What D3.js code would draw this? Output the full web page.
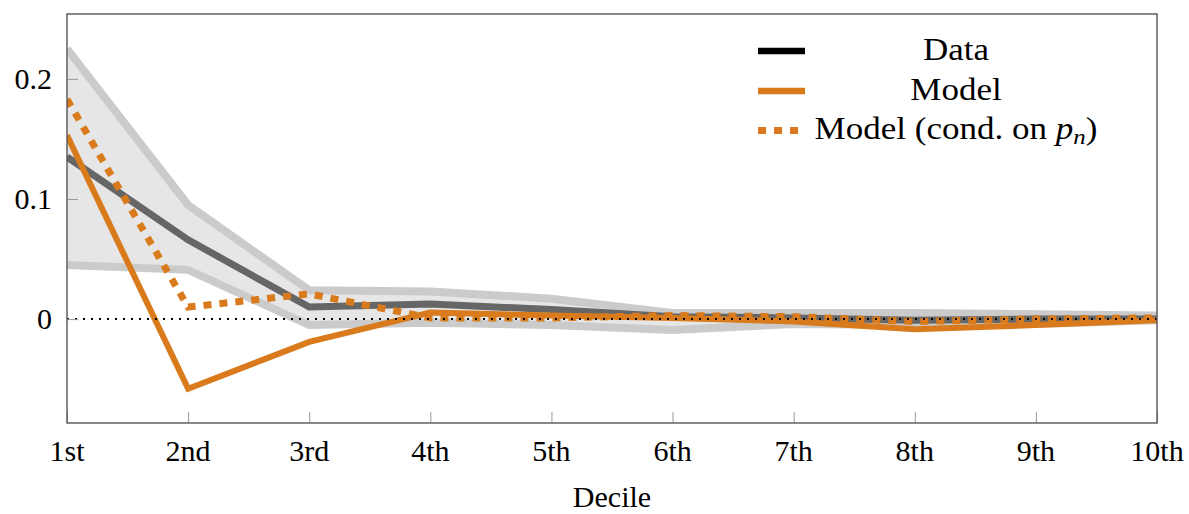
<!DOCTYPE html>
<html><head><meta charset="utf-8">
<script src="https://cdn.jsdelivr.net/npm/d3@7"></script>
<style>
body{margin:0;background:#fff;}
text{font-family:"Liberation Serif","Times New Roman",serif;fill:#000;}
</style></head>
<body><svg id="c" width="1189" height="514"></svg>
<script>
const deciles = ["1st","2nd","3rd","4th","5th","6th","7th","8th","9th","10th"];
const dataLine = [0.135, 0.066, 0.010, 0.0125, 0.008, 0.002, 0.001, -0.001, 0.000, 0.000];
const upperBand = [0.225, 0.095, 0.024, 0.023, 0.017, 0.005, 0.005, 0.005, 0.004, 0.003];
const lowerBand = [0.045, 0.041, -0.005, -0.003, -0.005, -0.009, -0.004, -0.005, -0.004, -0.001];
const modelLine = [0.153, -0.058, -0.019, 0.0055, 0.003, 0.001, -0.002, -0.0085, -0.005, -0.001];
const condLine = [0.183, 0.010, 0.021, 0.001, 0.001, 0.003, 0.002, -0.002, 0.000, 0.001];
const yTicks = [0, 0.1, 0.2];
const yTickLabels = ["0", "0.1", "0.2"];
const legendLabels = ["Data", "Model"];

const svg = d3.select("#c");
const L = 67, R = 1157, T = 14, B = 423;
const x = d3.scalePoint().domain(deciles).range([L, R]);
const y = d3.scaleLinear().domain([-0.0865, 0.254]).range([B, T]);
const orange = "#d97b1c";

const idx = d3.range(deciles.length);
const area = d3.area().x(i => x(deciles[i])).y0(i => y(lowerBand[i])).y1(i => y(upperBand[i]));
const line = arr => d3.line().x(i => x(deciles[i])).y(i => y(arr[i]));

svg.append("defs").append("clipPath").attr("id","clip").append("rect")
  .attr("x", L).attr("y", T).attr("width", R-L).attr("height", B-T);
const p = svg.append("g").attr("clip-path","url(#clip)");

p.append("path").attr("d", area(idx)).attr("fill", "#e6e6e6");
p.append("path").attr("d", line(upperBand)(idx)).attr("fill","none").attr("stroke","#cbcbcb").attr("stroke-width",8);
p.append("path").attr("d", line(lowerBand)(idx)).attr("fill","none").attr("stroke","#cbcbcb").attr("stroke-width",8);
p.append("path").attr("d", line(dataLine)(idx)).attr("fill","none").attr("stroke","#666").attr("stroke-width",7);
p.append("path").attr("d", line(modelLine)(idx)).attr("fill","none").attr("stroke",orange).attr("stroke-width",6);
p.append("path").attr("d", line(condLine)(idx)).attr("fill","none").attr("stroke",orange).attr("stroke-width",7).attr("stroke-dasharray","8 8");
p.append("line").attr("x1",L).attr("x2",R).attr("y1",y(0)).attr("y2",y(0))
  .attr("stroke","#000").attr("stroke-width",2).attr("stroke-dasharray","2 6");

// axes (tick marks)
const xg = svg.append("g").attr("transform", `translate(0,${B})`).call(d3.axisBottom(x).tickSize(-11).tickFormat(""));
xg.select(".domain").remove();
xg.selectAll(".tick line").attr("stroke","#999").attr("stroke-width",1);
const yg = svg.append("g").attr("transform", `translate(${L},0)`).call(d3.axisLeft(y).tickValues(yTicks).tickSize(-11).tickFormat(""));
yg.select(".domain").remove();
yg.selectAll(".tick line").attr("stroke","#999").attr("stroke-width",1);

// tick labels
svg.append("g").selectAll("text").data(deciles).join("text")
  .attr("x", d => x(d)).attr("y", 461).attr("text-anchor","middle").attr("font-size",30).text(d => d);
svg.append("g").selectAll("text").data(yTicks).join("text")
  .attr("x", 52).attr("y", d => y(d)).attr("dy","0.34em").attr("text-anchor","end").attr("font-size",30)
  .text((d,i) => yTickLabels[i]);

svg.append("rect").attr("x",L).attr("y",T).attr("width",R-L).attr("height",B-T)
  .attr("fill","none").attr("stroke","#555").attr("stroke-width",1.4);

svg.append("text").attr("x",(L+R)/2).attr("y",507).attr("text-anchor","middle").attr("font-size",30).text("Decile");

// legend
const lx1 = 758, lx2 = 805, tx = 956, sx = 1.13;
const rows = [
  {y:59.5, stroke:"#000", dash:null, w:6.5},
  {y:99.5, stroke:orange, dash:null, w:6.5},
  {y:139, stroke:orange, dash:"8 8", w:7}
];
rows.forEach(r => {
  svg.append("line").attr("x1",lx1).attr("x2",lx2).attr("y1",r.y-8.5).attr("y2",r.y-8.5)
    .attr("stroke",r.stroke).attr("stroke-width",r.w).attr("stroke-dasharray",r.dash);
});
const lt = (yy) => svg.append("text").attr("transform",`translate(${tx},${yy}) scale(${sx},1)`)
  .attr("text-anchor","middle").attr("font-size",31);
lt(rows[0].y).text(legendLabels[0]);
lt(rows[1].y).text(legendLabels[1]);
const t3 = lt(rows[2].y);
t3.append("tspan").text("Model (cond. on ");
t3.append("tspan").attr("font-style","italic").text("p");
t3.append("tspan").attr("font-style","italic").attr("font-size",22).attr("dy",5).text("n");
t3.append("tspan").attr("dy",-5).text(")");
</script></body></html>
